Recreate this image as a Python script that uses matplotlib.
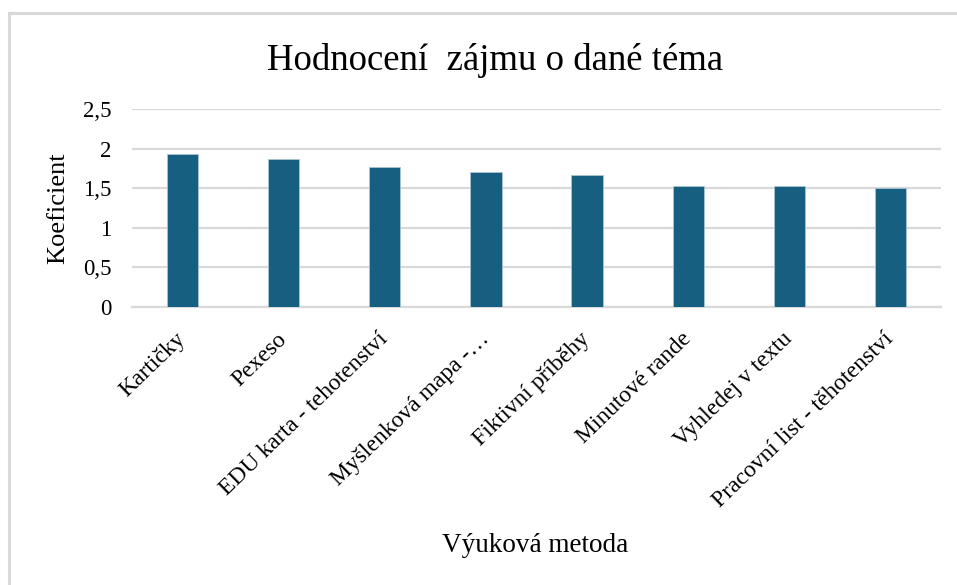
import matplotlib
matplotlib.use("Agg")
import matplotlib.pyplot as plt
from matplotlib.lines import Line2D

# data
metody = ["Kartičky", "Pexeso", "EDU karta - tehotenství", "Myšlenková mapa -…",
          "Fiktivní příběhy", "Minutové rande", "Vyhledej v textu",
          "Pracovní list - těhotenství"]
koeficient = [1.93, 1.87, 1.77, 1.70, 1.67, 1.53, 1.53, 1.50]
y_ticks = [0, 0.5, 1, 1.5, 2, 2.5]
y_labels = ["0", "0,5", "1", "1,5", "2", "2,5"]

BAR = "#175f80"
GRID = "#d9d9d9"
W, H = 957, 585

plt.rcParams["font.family"] = ["Liberation Serif", "DejaVu Serif"]

fig = plt.figure(figsize=(W / 100, H / 100), dpi=100)
ax = fig.add_axes([132 / W, 1 - 307 / H, (941 - 132) / W, (307 - 109) / H])

x = range(len(metody))
ax.bar(x, koeficient, width=0.31, color=BAR, edgecolor="#a9c4d3", linewidth=0.6, zorder=3)
ax.set_xlim(-0.5, len(metody) - 0.5)
ax.set_ylim(0, 2.5)
ax.set_yticks(y_ticks)
ax.set_yticklabels(y_labels, fontsize=16.5)
ax.yaxis.grid(True, color=GRID, linewidth=1.6, zorder=0)
ax.set_axisbelow(True)
ax.tick_params(axis="y", length=0, pad=15)
ax.tick_params(axis="x", length=0, pad=21)
ax.set_xticks(list(x))
ax.set_xticklabels(metody, rotation=44, ha="right", va="center",
                   rotation_mode="anchor", fontsize=17)
for s in ["top", "right", "left"]:
    ax.spines[s].set_visible(False)
ax.spines["bottom"].set_color(GRID)
ax.spines["bottom"].set_linewidth(1.6)

ax.set_ylabel("Koeficient", fontsize=19, labelpad=10)
fig.text(535 / W, 1 - 546 / H, "Výuková metoda", fontsize=19.5, ha="center", va="center")
fig.text(495 / W, 1 - 60 / H, "Hodnocení  zájmu o dané téma", fontsize=26.5,
         ha="center", va="center")

# light frame (top and left edges only visible)
fig.add_artist(Line2D([9 / W, 1], [1 - 13 / H, 1 - 13 / H], color="#d9d9d9", linewidth=2.2))
fig.add_artist(Line2D([9 / W, 9 / W], [0, 1 - 13 / H], color="#d9d9d9", linewidth=2.2))

fig.savefig("out.png", dpi=100, facecolor="white")
